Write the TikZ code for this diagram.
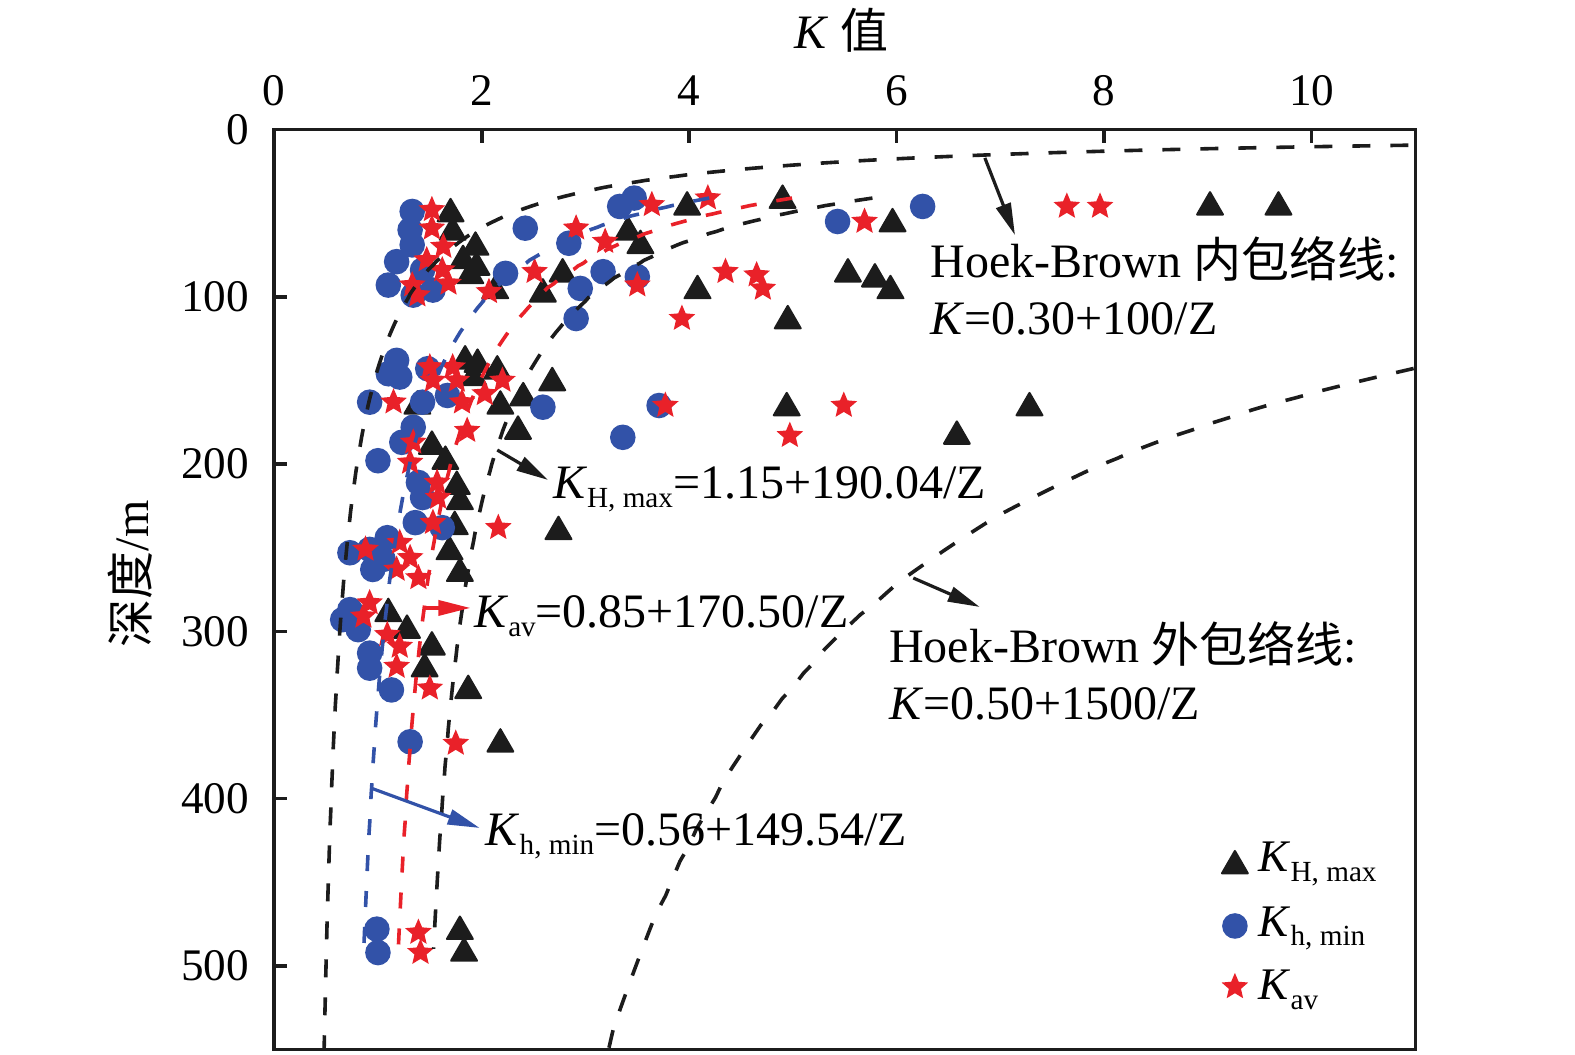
\documentclass[tikz,border=0pt]{standalone}
\usepackage{fontspec}
\setmainfont{Liberation Serif}
\newfontfamily\cjk{Noto Sans CJK SC}
\usetikzlibrary{shapes.geometric,arrows.meta}
\definecolor{kblue}{RGB}{50,82,168}
\definecolor{kred}{RGB}{233,33,41}
\definecolor{kblack}{RGB}{28,28,28}
\newcommand{\ksub}[1]{\raisebox{-2.3pt}{\fontsize{7.3}{8}\selectfont #1}}

\begin{document}
\begin{tikzpicture}[x=25.9375pt, y=-0.41825pt,
  every node/.append style={font=\fontsize{11.3}{13.5}\selectfont, inner sep=0pt},
  lbl/.style = {anchor=base west, font=\fontsize{12}{14}\selectfont},
  frame/.style = {draw=kblack, line width=0.9pt},
  hmaxmark/.style = {regular polygon, regular polygon sides=3, minimum size=8.5pt, fill=kblack, rounded corners=0.5pt, yshift=-1pt},
  hminmark/.style = {circle, minimum size=6.4pt, fill=kblue},
  avmark/.style = {star, star points=5, star point ratio=2.2, minimum size=7pt, fill=kred},
  envline/.style = {draw=kblack, line width=0.9pt, dash pattern=on 4.5pt off 5pt},
  fitline/.style = {line width=0.9pt, dash pattern=on 4pt off 5pt},
  ptr/.style = {line width=0.8pt, -{Triangle[length=8pt, width=3.8pt]}}]

\useasboundingbox (-2.643,-77.4) rectangle (12.538,553.2);

% K_H,max
\node[hmaxmark] (H1) at (1.70,48) {};
\node[hmaxmark] (H2) at (1.72,59) {};
\node[hmaxmark] (H3) at (1.94,68) {};
\node[hmaxmark] (H4) at (1.82,76) {};
\node[hmaxmark] (H5) at (1.95,80) {};
\node[hmaxmark] (H6) at (2.13,94) {};
\node[hmaxmark] (H7) at (2.59,96) {};
\node[hmaxmark] (H8) at (2.78,84) {};
\node[hmaxmark] (H9) at (3.41,59) {};
\node[hmaxmark] (H10) at (3.53,67) {};
\node[hmaxmark] (H11) at (3.98,44) {};
\node[hmaxmark] (H12) at (4.90,40) {};
\node[hmaxmark] (H13) at (4.08,94) {};
\node[hmaxmark] (H14) at (4.95,112) {};
\node[hmaxmark] (H15) at (5.96,54) {};
\node[hmaxmark] (H16) at (5.53,84) {};
\node[hmaxmark] (H17) at (5.79,87) {};
\node[hmaxmark] (H18) at (5.94,94) {};
\node[hmaxmark] (H19) at (9.02,44) {};
\node[hmaxmark] (H20) at (9.68,44) {};
\node[hmaxmark] (H21) at (1.84,136) {};
\node[hmaxmark] (H22) at (1.96,138) {};
\node[hmaxmark] (H23) at (2.15,142) {};
\node[hmaxmark] (H24) at (1.92,146) {};
\node[hmaxmark] (H25) at (2.68,149) {};
\node[hmaxmark] (H26) at (2.40,158) {};
\node[hmaxmark] (H27) at (2.18,163) {};
\node[hmaxmark] (H28) at (1.38,163) {};
\node[hmaxmark] (H29) at (2.35,178) {};
\node[hmaxmark] (H30) at (1.52,187) {};
\node[hmaxmark] (H31) at (1.65,196) {};
\node[hmaxmark] (H32) at (1.76,211) {};
\node[hmaxmark] (H33) at (1.79,220) {};
\node[hmaxmark] (H34) at (1.74,235) {};
\node[hmaxmark] (H35) at (2.74,238) {};
\node[hmaxmark] (H36) at (1.69,250) {};
\node[hmaxmark] (H37) at (1.79,263) {};
\node[hmaxmark] (H38) at (1.10,287) {};
\node[hmaxmark] (H39) at (1.28,297) {};
\node[hmaxmark] (H40) at (1.52,307) {};
\node[hmaxmark] (H41) at (1.45,320) {};
\node[hmaxmark] (H42) at (1.87,333) {};
\node[hmaxmark] (H43) at (2.18,365) {};
\node[hmaxmark] (H44) at (4.94,164) {};
\node[hmaxmark] (H45) at (6.58,181) {};
\node[hmaxmark] (H46) at (7.28,164) {};
\node[hmaxmark] (H47) at (1.79,477) {};
\node[hmaxmark] (H48) at (1.83,490) {};
\node[hmaxmark] (H49) at (1.89,85) {};

% K_h,min
\node[hminmark] (h1) at (1.33,49) {};
\node[hminmark] (h2) at (1.31,60) {};
\node[hminmark] (h3) at (1.33,69) {};
\node[hminmark] (h4) at (1.18,79) {};
\node[hminmark] (h5) at (1.10,93) {};
\node[hminmark] (h6) at (1.34,99) {};
\node[hminmark] (h7) at (1.53,96) {};
\node[hminmark] (h8) at (1.43,84) {};
\node[hminmark] (h9) at (2.42,59) {};
\node[hminmark] (h10) at (2.23,86) {};
\node[hminmark] (h11) at (2.84,68) {};
\node[hminmark] (h12) at (2.95,95) {};
\node[hminmark] (h13) at (2.91,113) {};
\node[hminmark] (h14) at (3.17,85) {};
\node[hminmark] (h15) at (3.33,46) {};
\node[hminmark] (h16) at (3.47,41) {};
\node[hminmark] (h17) at (3.50,88) {};
\node[hminmark] (h18) at (5.43,55) {};
\node[hminmark] (h19) at (6.25,46) {};
\node[hminmark] (h20) at (1.18,138) {};
\node[hminmark] (h21) at (1.10,146) {};
\node[hminmark] (h22) at (1.21,148) {};
\node[hminmark] (h23) at (1.48,143) {};
\node[hminmark] (h24) at (0.92,163) {};
\node[hminmark] (h25) at (1.43,163) {};
\node[hminmark] (h26) at (1.67,159) {};
\node[hminmark] (h27) at (1.34,178) {};
\node[hminmark] (h28) at (1.23,187) {};
\node[hminmark] (h29) at (1.00,198) {};
\node[hminmark] (h30) at (1.39,211) {};
\node[hminmark] (h31) at (1.43,220) {};
\node[hminmark] (h32) at (1.36,235) {};
\node[hminmark] (h33) at (1.62,238) {};
\node[hminmark] (h34) at (2.59,166) {};
\node[hminmark] (h35) at (3.36,184) {};
\node[hminmark] (h36) at (3.71,165) {};
\node[hminmark] (h37) at (1.09,244) {};
\node[hminmark] (h38) at (0.92,251) {};
\node[hminmark] (h39) at (0.73,253) {};
\node[hminmark] (h40) at (0.95,263) {};
\node[hminmark] (h41) at (1.05,257) {};
\node[hminmark] (h42) at (0.73,287) {};
\node[hminmark] (h43) at (0.66,293) {};
\node[hminmark] (h44) at (0.81,299) {};
\node[hminmark] (h45) at (0.92,313) {};
\node[hminmark] (h46) at (0.92,322) {};
\node[hminmark] (h47) at (1.13,335) {};
\node[hminmark] (h48) at (1.31,366) {};
\node[hminmark] (h49) at (0.99,478) {};
\node[hminmark] (h50) at (1.00,492) {};

% K_av
\node[avmark] (a1) at (1.52,48) {};
\node[avmark] (a2) at (1.52,59) {};
\node[avmark] (a3) at (1.63,70) {};
\node[avmark] (a4) at (1.47,78) {};
\node[avmark] (a5) at (1.62,84) {};
\node[avmark] (a6) at (1.68,92) {};
\node[avmark] (a7) at (1.33,93) {};
\node[avmark] (a8) at (1.38,99) {};
\node[avmark] (a9) at (2.07,97) {};
\node[avmark] (a10) at (2.51,85) {};
\node[avmark] (a11) at (2.91,59) {};
\node[avmark] (a12) at (3.19,67) {};
\node[avmark] (a13) at (3.50,93) {};
\node[avmark] (a14) at (3.64,45) {};
\node[avmark] (a15) at (4.18,41) {};
\node[avmark] (a16) at (3.93,113) {};
\node[avmark] (a17) at (4.35,85) {};
\node[avmark] (a18) at (4.65,87) {};
\node[avmark] (a19) at (4.71,95) {};
\node[avmark] (a20) at (5.69,55) {};
\node[avmark] (a21) at (7.64,46) {};
\node[avmark] (a22) at (7.96,46) {};
\node[avmark] (a23) at (1.50,142) {};
\node[avmark] (a24) at (1.53,150) {};
\node[avmark] (a25) at (1.72,142) {};
\node[avmark] (a26) at (1.76,150) {};
\node[avmark] (a27) at (1.15,163) {};
\node[avmark] (a28) at (1.81,163) {};
\node[avmark] (a29) at (2.03,158) {};
\node[avmark] (a30) at (2.20,150) {};
\node[avmark] (a31) at (1.86,180) {};
\node[avmark] (a32) at (1.34,187) {};
\node[avmark] (a33) at (1.31,199) {};
\node[avmark] (a34) at (1.57,211) {};
\node[avmark] (a35) at (1.58,220) {};
\node[avmark] (a36) at (1.53,235) {};
\node[avmark] (a37) at (2.16,238) {};
\node[avmark] (a38) at (1.21,247) {};
\node[avmark] (a39) at (0.88,251) {};
\node[avmark] (a40) at (1.31,256) {};
\node[avmark] (a41) at (1.18,263) {};
\node[avmark] (a42) at (1.39,268) {};
\node[avmark] (a43) at (0.92,283) {};
\node[avmark] (a44) at (0.86,291) {};
\node[avmark] (a45) at (1.09,302) {};
\node[avmark] (a46) at (1.21,309) {};
\node[avmark] (a47) at (1.18,321) {};
\node[avmark] (a48) at (1.50,334) {};
\node[avmark] (a49) at (1.75,367) {};
\node[avmark] (a50) at (3.77,165) {};
\node[avmark] (a51) at (5.49,165) {};
\node[avmark] (a52) at (4.97,183) {};
\node[avmark] (a53) at (1.39,480) {};
\node[avmark] (a54) at (1.41,492) {};

% envelopes and fits
\draw[envline] plot[domain=2.2407:6.3099, samples=150, variable=\t] ({0.30+100*exp(-\t)},{exp(\t)});
\draw[envline] plot[domain=4.9618:6.3099, samples=60, variable=\t] ({0.50+1500*exp(-\t)},{exp(\t)});
\draw[envline] plot[domain=3.7136:6.1944, samples=120, variable=\t] ({1.15+190.04*exp(-\t)},{exp(\t)});
\draw[fitline, kblue] plot[domain=3.7136:6.1944, samples=120, variable=\t] ({0.56+149.54*exp(-\t)},{exp(\t)});
\draw[fitline, kred] plot[domain=3.7136:6.1944, samples=120, variable=\t] ({0.85+170.50*exp(-\t)},{exp(\t)});

% frame and ticks
\draw[frame] (0,0) rectangle (11,550);
\draw[frame] (2,0) -- ++(0,-3.3pt);
\draw[frame] (4,0) -- ++(0,-3.3pt);
\draw[frame] (6,0) -- ++(0,-3.3pt);
\draw[frame] (8,0) -- ++(0,-3.3pt);
\draw[frame] (10,0) -- ++(0,-3.3pt);
\draw[frame] (0,100) -- ++(3.3pt,0);
\draw[frame] (0,200) -- ++(3.3pt,0);
\draw[frame] (0,300) -- ++(3.3pt,0);
\draw[frame] (0,400) -- ++(3.3pt,0);
\draw[frame] (0,500) -- ++(3.3pt,0);

\node[anchor=base] (x0) at (0,-14.6) {0};
\node[anchor=base] (x2) at (2,-14.6) {2};
\node[anchor=base] (x4) at (4,-14.6) {4};
\node[anchor=base] (x6) at (6,-14.6) {6};
\node[anchor=base] (x8) at (8,-14.6) {8};
\node[anchor=base] (x10) at (10,-14.6) {10};

\node[anchor=east] (y0) at (-0.236,0) {0};
\node[anchor=east] (y100) at (-0.236,100) {100};
\node[anchor=east] (y200) at (-0.236,200) {200};
\node[anchor=east] (y300) at (-0.236,300) {300};
\node[anchor=east] (y400) at (-0.236,400) {400};
\node[anchor=east] (y500) at (-0.236,500) {500};

\node[lbl, anchor=base] (xlab) at (5.47,-48.7) {\textit{K} {\cjk 值}};
\node[rotate=90, font=\fontsize{12}{14}\selectfont] (ylab) at (-1.388,265.7) {{\cjk 深度}/m};

% labels
\node[lbl] (hbin1) at (6.32,88.2) {Hoek-Brown {\cjk 内包络线}:};
\node[lbl] (hbin2) at (6.32,122.8) {\textit{K}=0.30+100/Z};
\node[lbl] (hbout1) at (5.92,318.9) {Hoek-Brown {\cjk 外包络线}:};
\node[lbl] (hbout2) at (5.92,352.9) {\textit{K}=0.50+1500/Z};
\node[lbl] (lHmax) at (2.68,220.3) {\textit{K}\ksub{H, max}=1.15+190.04/Z};
\node[lbl] (lav) at (1.92,297.4) {\textit{K}\ksub{av}=0.85+170.50/Z};
\node[lbl] (lhmin) at (2.03,427.7) {\textit{K}\ksub{h, min}=0.56+149.54/Z};

\coordinate (pin1) at (6.85,17.0);
\coordinate (pin2) at (7.14,63.1);
\coordinate (pout1) at (6.16,268.1);
\coordinate (pout2) at (6.80,285.4);
\coordinate (pH1) at (2.15,191.6);
\coordinate (pH2) at (2.64,209.5);
\coordinate (pa1) at (1.46,286);
\coordinate (pa2) at (1.89,286);
\coordinate (ph1) at (0.93,393.6);
\coordinate (ph2) at (1.98,417.5);

\draw[ptr, kblack] (pin1) -- (pin2);
\draw[ptr, kblack] (pout1) -- (pout2);
\draw[ptr, kblack] (pH1) -- (pH2);
\draw[ptr, kred] (pa1) -- (pa2);
\draw[ptr, kblue] (ph1) -- (ph2);

% legend
\node[hmaxmark] (LH) at (9.26,437.8) {};
\node[hminmark] (Lh) at (9.26,476.1) {};
\node[avmark] (La) at (9.26,512.5) {};
\node[anchor=base west] (tLH) at (9.48,443.8) {\textit{K}\ksub{H, max}};
\node[anchor=base west] (tLh) at (9.48,482.1) {\textit{K}\ksub{h, min}};
\node[anchor=base west] (tLa) at (9.48,520.3) {\textit{K}\ksub{av}};

\end{tikzpicture}
\end{document}
